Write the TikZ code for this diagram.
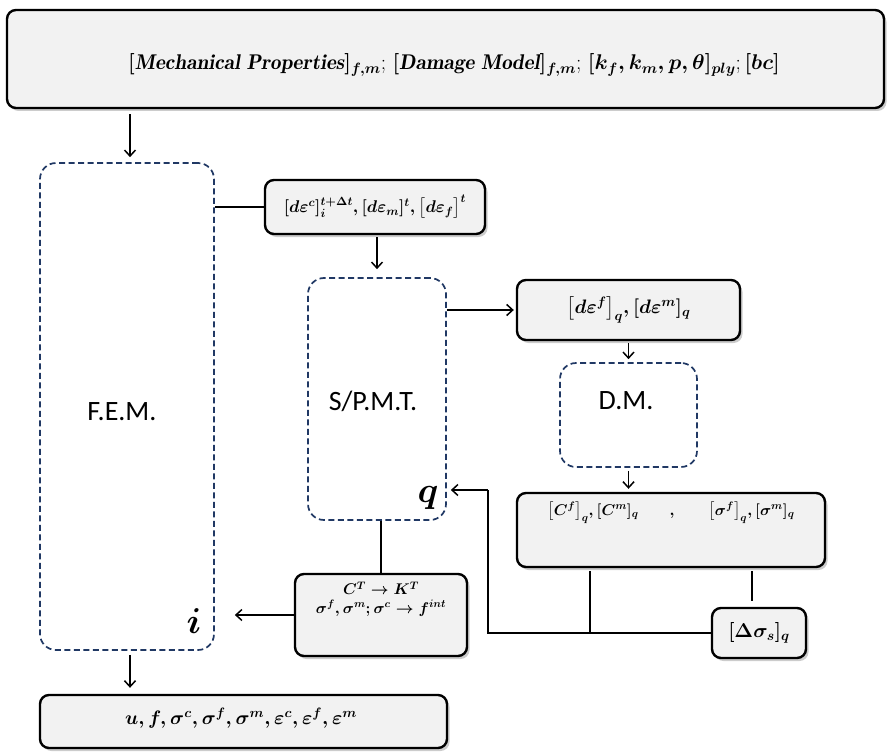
\RequirePackage{fix-cm}
\documentclass[tikz,border=0pt]{standalone}
\usepackage{amsmath,amssymb}
\usepackage{fontspec}
\newfontfamily\calib{Carlito}
\usetikzlibrary{arrows.meta,calc}
\definecolor{boxfill}{HTML}{F2F2F2}
\definecolor{navy}{HTML}{203864}
\newcommand{\bmath}[1]{{\boldmath$#1$}}
\newcommand{\fs}[1]{\fontsize{#1}{#1}\selectfont}
\tikzset{
  solidbox/.style={draw=black, line width=2.4pt, rounded corners=9pt, fill=boxfill,
    preaction={draw=none, fill=black!40, opacity=0.5, transform canvas={xshift=2.5pt, yshift=-3pt}},
    inner sep=0pt, align=center},
  txt/.style={inner sep=0pt, align=center},
  dashbox/.style={draw=navy, dash pattern=on 6pt off 3.5pt, line width=1.7pt, rounded corners=16pt, inner sep=0pt},
  arr/.style={-{Straight Barb[length=6pt,width=11pt,line width=1.5pt]}, line width=1.6pt},
  conn/.style={line width=1.6pt},
  bigq/.style={font=\fs{36}},
  lbl/.style={font=\calib\fs{28}}
}
\begin{document}
\begin{tikzpicture}[x=1pt,y=-1pt]
\useasboundingbox (0,0) rectangle (888,754);
% boxes
\node[solidbox, minimum width=877pt, minimum height=98pt] (top) at (445.5,59) {};
\node[txt, font=\fs{21.3}] (toptext) at (454,65)
  {\bmath{[\mathit{Mechanical\ Properties}]_{f,m}};\ \bmath{[\mathit{Damage\ Model}]_{f,m}};\ \bmath{[k_f,k_m,p,\theta]_{ply}};\,\bmath{[bc]}};
\node[dashbox, minimum width=174pt, minimum height=487pt] (fem) at (127,406.5) {};
\node[lbl] (femlbl) at (122,412) {F.E.M.};
\node[bigq] (ilbl) at (194,621) {\bmath{i}};
\node[solidbox, minimum width=220pt, minimum height=54pt, font=\fs{17}] (deps) at (375,207)
  {\bmath{[d\varepsilon^c]_i^{t+\Delta t}, [d\varepsilon_m]^t, \bigl[d\varepsilon_f\bigr]^t}};
\node[dashbox, minimum width=138pt, minimum height=242pt] (spmt) at (377,399) {};
\node[lbl] (spmtlbl) at (373,401) {S/P.M.T.};
\node[bigq] (qlbl) at (428,498) {\bmath{q}};
\node[solidbox, minimum width=223pt, minimum height=60pt, font=\fs{19.5}] (def) at (628.5,310)
  {\bmath{\bigl[d\varepsilon^f\bigr]_{q}, [d\varepsilon^m]_q}};
\node[dashbox, minimum width=137pt, minimum height=104pt] (dm) at (628.5,415) {};
\node[lbl] (dmlbl) at (626,401) {D.M.};
\node[solidbox, minimum width=308pt, minimum height=74pt] (cbox) at (671,530) {};
\node[txt, font=\fs{15.5}] (ctext) at (671,513)
  {\bmath{\bigl[C^f\bigr]_{q}, [C^m]_q \qquad , \qquad \bigl[\sigma^f\bigr]_{q}, [\sigma^m]_q}};
\node[solidbox, minimum width=94pt, minimum height=50pt, font=\fs{20}] (dsig) at (759,633)
  {\bmath{[\Delta\sigma_s]_q}};
\node[solidbox, minimum width=172pt, minimum height=82pt] (ct) at (381,615) {};
\node[txt, font=\fs{15.5}] (cttext) at (381,599)
  {\bmath{C^T \rightarrow K^T}\\[3pt]\bmath{\sigma^f, \sigma^m; \sigma^c \rightarrow f^{int}}};
\node[solidbox, minimum width=407pt, minimum height=53pt] (bot) at (243.5,721.5) {};
\node[txt, font=\fs{19.5}] (bottext) at (241,718)
  {\bmath{u, f, \sigma^c, \sigma^f, \sigma^m, \varepsilon^c, \varepsilon^f, \varepsilon^m}};
% helper coordinates
\coordinate (xa) at (130,0);
\coordinate (xl) at (590,0);
\coordinate (xr) at (752,0);
\coordinate (yq) at (0,490);
\coordinate (xj) at (488,0);
% connectors
\draw[arr, shorten <=5pt, shorten >=5pt] (top.south -| xa) -- (fem.north -| xa);
\draw[conn] (fem.east |- deps.west) -- (deps.west);
\draw[arr, shorten <=2pt, shorten >=8pt] (deps.south -| spmt.north) -- (spmt.north);
\draw[arr, shorten >=2pt] (spmt.east |- def.west) -- (def.west);
\draw[arr, shorten <=2pt, shorten >=3pt] (def.south -| dm.north) -- (dm.north);
\draw[arr, shorten <=3pt, shorten >=3pt] (dm.south) -- (cbox.north -| dm.south);
\draw[conn, shorten <=3pt, shorten >=6pt] (cbox.south -| xr) -- (dsig.north -| xr);
\draw[conn] (dsig.west) -- (dsig.west -| xj) -- (yq -| xj);
\draw[arr, shorten >=4pt] (yq -| xj) -- (yq -| spmt.east);
\draw[conn, shorten <=3pt] (cbox.south -| xl) -- (dsig.west -| xl);
\draw[conn] (spmt.south -| ct.north) -- (ct.north);
\draw[arr, shorten >=20pt] (ct.west) -- (ct.west -| fem.east);
\draw[arr, shorten <=4pt, shorten >=6pt] (fem.south -| xa) -- (bot.north -| xa);
\end{tikzpicture}
\end{document}
